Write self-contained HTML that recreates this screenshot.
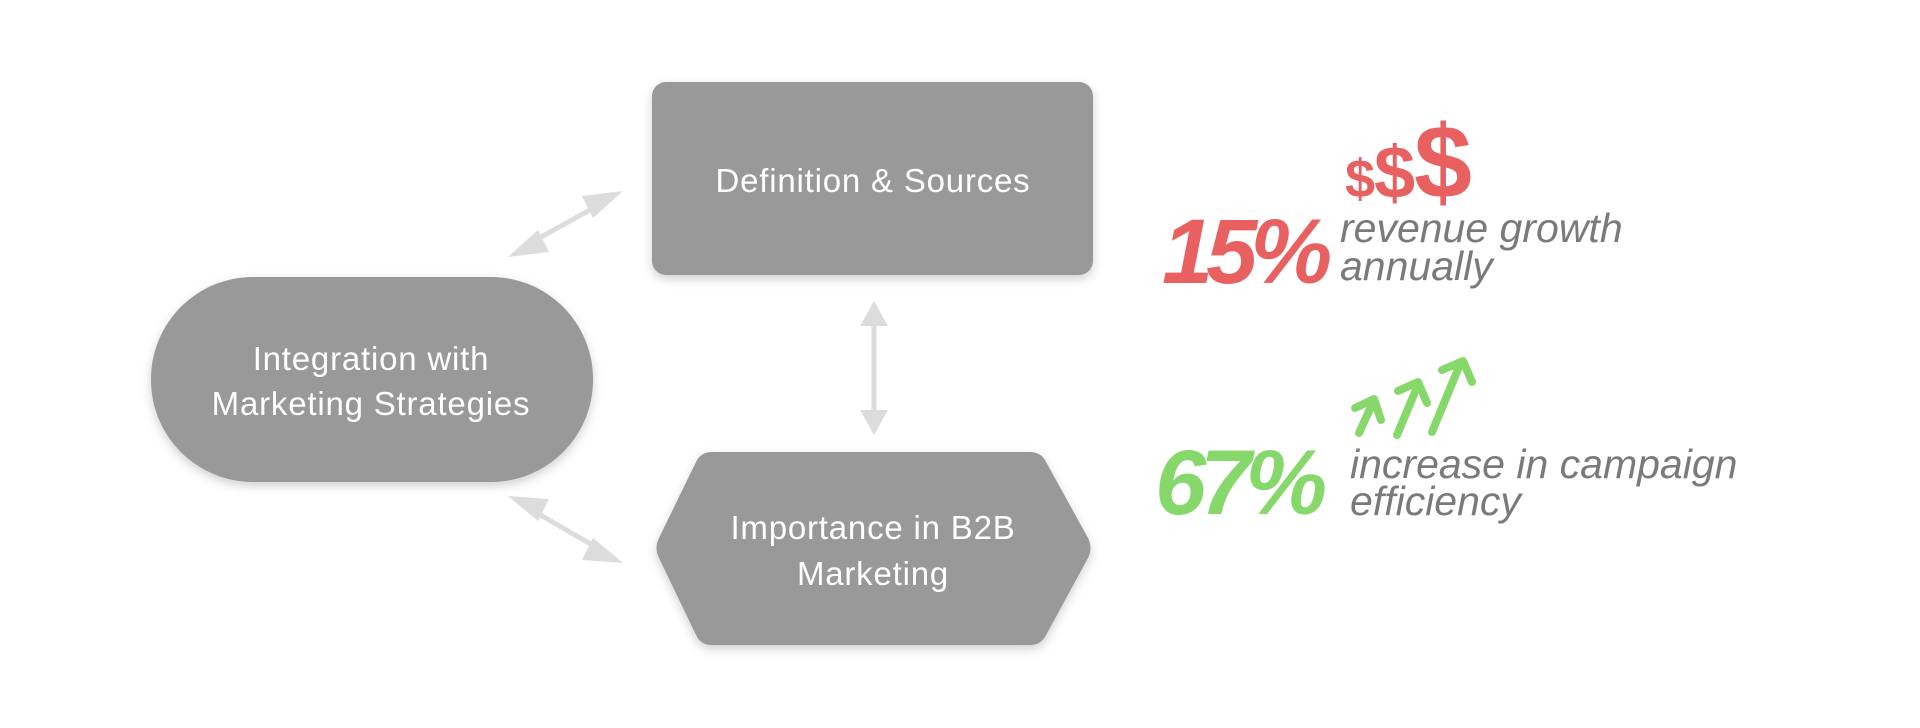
<!DOCTYPE html>
<html><head><meta charset="utf-8"><style>
html,body{margin:0;padding:0;background:#fff;width:1920px;height:728px;overflow:hidden}
svg{display:block}
text{font-family:"Liberation Sans",sans-serif}
</style></head><body>
<svg width="1920" height="728" viewBox="0 0 1920 728" xmlns="http://www.w3.org/2000/svg">
<defs>
<filter id="sh" x="-10%" y="-10%" width="120%" height="130%">
<feDropShadow dx="0" dy="4" stdDeviation="5" flood-color="#000" flood-opacity="0.18"/>
</filter>
</defs>
<g stroke="#dcdcdc" stroke-width="5" fill="#dcdcdc">
<line x1="525" y1="246" x2="606" y2="201"/>
<polygon points="508,257 538,230 549,252" stroke="none"/>
<polygon points="623,191 593,218 582,196" stroke="none"/>
<line x1="874" y1="320" x2="874" y2="416"/>
<polygon points="874,301 860,326 888,326" stroke="none"/>
<polygon points="874,435 860,410 888,410" stroke="none"/>
<line x1="525" y1="506" x2="606" y2="553"/>
<polygon points="508,496 549,499 538,521" stroke="none"/>
<polygon points="623,563 582,560 593,538" stroke="none"/>
</g>
<g fill="#999" filter="url(#sh)">
<rect x="652" y="82" width="441" height="193" rx="14"/>
<rect x="151" y="277" width="442" height="205" rx="102"/>
<path d="M712,452 L1030,452 Q1040,452 1045,460 L1088,538 Q1093,548 1088,558 L1045,637 Q1040,645 1030,645 L712,645 Q702,645 697,637 L659,558 Q654,548 659,538 L697,460 Q702,452 712,452 Z"/>
</g>
<g fill="#fff" font-size="33" text-anchor="middle" letter-spacing="0.8">
<text x="873" y="192">Definition &amp; Sources</text>
<text x="371" y="370">Integration with</text>
<text x="371" y="415">Marketing Strategies</text>
<text x="873" y="539">Importance in B2B</text>
<text x="873" y="585">Marketing</text>
</g>
<g font-weight="bold" fill="#e86060">
<text x="1345" y="197" font-size="54">$</text>
<text x="1374" y="198" font-size="74">$</text>
<text x="1414" y="198" font-size="104">$</text>
</g>
<text x="1162" y="283" font-weight="bold" font-style="italic" fill="#e86060" font-size="92" letter-spacing="-7">15%</text>
<g font-style="italic" fill="#7a7a7a" font-size="41">
<text x="1340" y="242">revenue growth</text>
<text x="1340" y="280">annually</text>
<text x="1350" y="478">increase in campaign</text>
<text x="1350" y="515">efficiency</text>
</g>
<text x="1155" y="514" font-weight="bold" font-style="italic" fill="#86d86a" font-size="92" letter-spacing="-6">67%</text>
<g stroke="#86d86a" stroke-width="8" stroke-linecap="round" stroke-linejoin="round" fill="none">
<path d="M1359,433 L1374,400"/><path d="M1355,408 L1374,399 L1381,420"/>
<path d="M1397,435 L1418,385"/><path d="M1398,391 L1418,382 L1427,403"/>
<path d="M1432,432 L1461,362"/><path d="M1442,370 L1463,361 L1472,382"/>
</g>
</svg>
</body></html>
